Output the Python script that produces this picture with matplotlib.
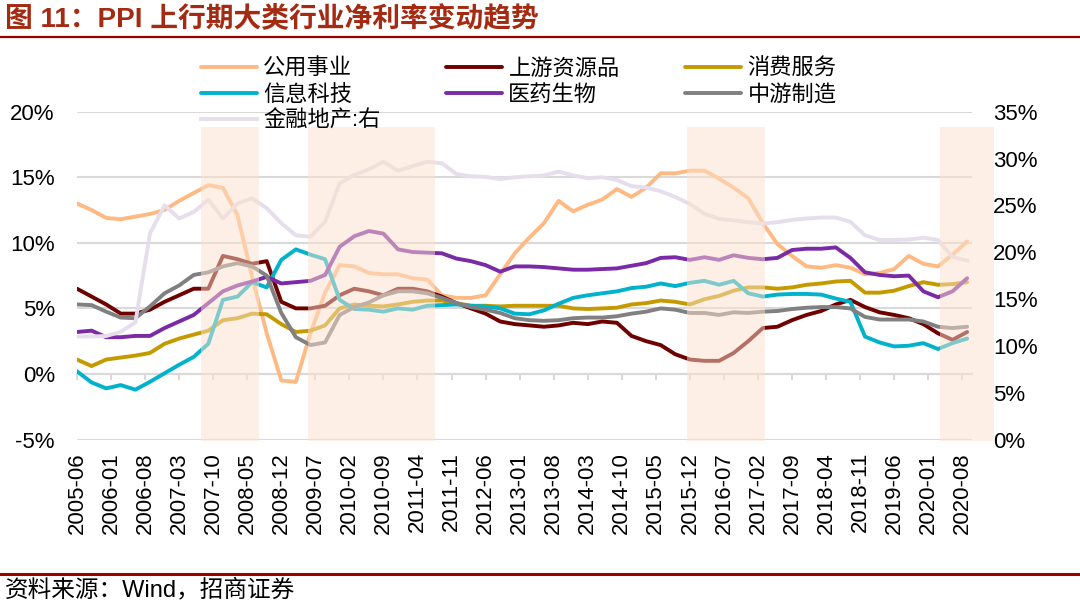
import numpy as np
import pandas as pd
import matplotlib
matplotlib.use('Agg')
import matplotlib.pyplot as plt
from matplotlib.lines import Line2D

plt.rcParams['font.family'] = ['Liberation Sans', 'Noto Sans CJK SC', 'DejaVu Sans']

# 月度类目轴 2005-06 ~ 2020-10，数据按季读取
months = pd.period_range('2005-06', '2020-10', freq='M')
obs = months[::3]
tick_months = months[::7]

util = [13.0, 12.5, 11.9, 11.8, 12.0, 12.2, 12.5, 13.2, 13.8, 14.4, 14.2, 12.1, 7.4, 3.1, -0.5, -0.6,
        3.1, 6.2, 8.3, 8.2, 7.7, 7.6, 7.6, 7.3, 7.2, 6.0, 5.8, 5.8, 6.0, 7.6, 9.2, 10.4,
        11.5, 13.2, 12.4, 12.9, 13.3, 14.1, 13.5, 14.2, 15.3, 15.3, 15.5, 15.5, 14.9, 14.2, 13.4,
        11.5, 9.9, 9.0, 8.2, 8.1, 8.3, 8.1, 7.6, 7.7, 8.0, 9.0, 8.4, 8.2, 9.1, 10.1]
upstream = [6.5, 5.9, 5.3, 4.6, 4.6, 4.9, 5.5, 6.0, 6.5, 6.5, 9.0, 8.75, 8.4, 8.6, 5.5, 5.0,
            5.0, 5.2, 6.0, 6.5, 6.3, 6.0, 6.5, 6.5, 6.3, 5.9, 5.4, 5.0, 4.6, 4.0, 3.8, 3.7,
            3.6, 3.7, 3.9, 3.8, 4.0, 3.9, 2.9, 2.5, 2.2, 1.5, 1.1, 1.0, 1.0, 1.6, 2.5,
            3.5, 3.6, 4.1, 4.5, 4.8, 5.3, 5.65, 5.1, 4.7, 4.5, 4.25, 3.8, 3.1, 2.6, 3.2]
consumer = [1.1, 0.6, 1.1, 1.25, 1.4, 1.6, 2.3, 2.7, 3.0, 3.3, 4.1, 4.25, 4.6, 4.55, 3.8, 3.2,
            3.3, 3.7, 5.0, 5.3, 5.2, 5.15, 5.3, 5.5, 5.6, 5.6, 5.4, 5.2, 5.2, 5.15, 5.2, 5.2,
            5.2, 5.2, 5.0, 4.95, 5.0, 5.05, 5.3, 5.4, 5.6, 5.5, 5.3, 5.7, 5.95, 6.35, 6.6,
            6.6, 6.5, 6.6, 6.8, 6.9, 7.05, 7.1, 6.2, 6.2, 6.35, 6.7, 7.0, 6.8, 6.85, 7.0]
tech = [0.2, -0.65, -1.1, -0.85, -1.2, -0.6, 0.05, 0.7, 1.3, 2.3, 5.65, 5.9, 7.0, 6.6, 8.7, 9.5,
        9.1, 8.75, 5.65, 4.95, 4.9, 4.75, 5.0, 4.9, 5.2, 5.25, 5.3, 5.2, 5.15, 5.0, 4.6, 4.55,
        4.85, 5.35, 5.8, 6.0, 6.15, 6.3, 6.55, 6.65, 6.9, 6.7, 6.95, 7.1, 6.8, 7.1, 6.15,
        5.9, 6.05, 6.1, 6.1, 6.05, 5.75, 5.5, 2.85, 2.4, 2.1, 2.15, 2.35, 1.9, 2.35, 2.7]
pharma = [3.2, 3.3, 2.8, 2.8, 2.9, 2.9, 3.5, 4.0, 4.5, 5.4, 6.3, 6.75, 7.05, 7.4, 6.9, 7.0,
          7.1, 7.55, 9.7, 10.5, 10.9, 10.7, 9.5, 9.3, 9.25, 9.2, 8.8, 8.6, 8.3, 7.8, 8.2, 8.2,
          8.15, 8.05, 7.95, 7.95, 8.0, 8.05, 8.25, 8.45, 8.85, 8.9, 8.7, 8.9, 8.7, 9.05, 8.85,
          8.75, 8.85, 9.45, 9.55, 9.55, 9.65, 8.85, 7.75, 7.55, 7.45, 7.5, 6.3, 5.85, 6.3, 7.3]
midstream = [5.3, 5.25, 4.75, 4.3, 4.25, 5.15, 6.15, 6.75, 7.55, 7.75, 8.2, 8.45, 8.2, 7.5, 4.65, 2.8,
             2.2, 2.4, 4.5, 5.1, 5.45, 6.0, 6.3, 6.3, 6.15, 5.8, 5.4, 5.1, 4.9, 4.65, 4.25, 4.1,
             4.05, 4.1, 4.25, 4.3, 4.3, 4.4, 4.6, 4.75, 5.0, 4.9, 4.65, 4.65, 4.5, 4.7, 4.65,
             4.75, 4.8, 4.95, 5.05, 5.1, 5.1, 5.0, 4.35, 4.15, 4.15, 4.15, 4.0, 3.6, 3.5, 3.6]
finance = [11.0, 11.0, 11.05, 11.5, 12.5, 22.0, 25.0, 23.6, 24.3, 25.6, 23.6, 25.2, 25.75, 24.7, 23.1, 21.8,
           21.65, 23.25, 27.35, 28.25, 28.85, 29.65, 28.7, 29.2, 29.65, 29.5, 28.35, 28.1, 28.05, 27.8, 28.0, 28.1,
           28.2, 28.6, 28.2, 27.9, 28.0, 27.7, 27.05, 26.9, 26.5, 25.9, 25.15, 24.1, 23.55, 23.4, 23.2,
           23.05, 23.2, 23.45, 23.6, 23.7, 23.7, 23.25, 21.8, 21.3, 21.3, 21.35, 21.55, 21.3, 19.5, 19.1]

# PPI 上行期
ppi_up = [('2007-08', '2008-07'), ('2009-06', '2011-07'), ('2015-12', '2017-03'), ('2020-04', '2021-02')]

left_series = [('公用事业', util, '#FFB983'), ('上游资源品', upstream, '#6E0000'),
               ('消费服务', consumer, '#C49A00'), ('信息科技', tech, '#00B2CA'),
               ('医药生物', pharma, '#7B2AA6'), ('中游制造', midstream, '#808080')]


def pos(p):
    return (pd.Period(p, 'M') - months[0]).n


x = np.array([pos(p) for p in obs])
xt = [pos(p) for p in tick_months]

fig = plt.figure(figsize=(10.8, 6.08), dpi=100)
ax = fig.add_axes([77 / 1080, 1 - 439.5 / 608, 895 / 1080, 327.8 / 608])
ax2 = ax.twinx()

handles = {}
for name, vals, c in left_series:
    handles[name], = ax.plot(x, vals, color=c, lw=2.8, label=name, solid_capstyle='round')
handles['金融地产:右'], = ax2.plot(x, finance, color='#E6DEEC', lw=2.8, label='金融地产:右')

for s, e in ppi_up:
    ax2.axvspan(pos(s) - 0.5, pos(e) + 0.5, ymin=-0.006, ymax=0.953, color='#FDE1CD',
                alpha=0.5, lw=0, zorder=5, clip_on=False)

ax.set_xlim(0, 184)
ax.set_ylim(-5, 20)
ax2.set_ylim(0, 35)

ax.set_yticks(range(-5, 21, 5))
ax.set_yticklabels([f'{v}%' for v in range(-5, 21, 5)])
ax2.set_yticks(range(0, 36, 5))
ax2.set_yticklabels([f'{v}%' for v in range(0, 36, 5)])
ax.yaxis.grid(True, color='#D9D9D9', lw=1.5)
ax.set_axisbelow(True)
for a in (ax, ax2):
    for sp in a.spines.values():
        sp.set_visible(False)
ax.tick_params(axis='y', length=0, pad=16, labelsize=16)
ax2.tick_params(axis='y', length=0, pad=15, labelsize=16)

ax.set_xticks(xt)
ax.set_xticklabels([str(p) for p in tick_months], rotation=90)
ax.tick_params(axis='x', length=0, pad=9, labelsize=16)

# 横轴穿过 0%
sec = ax.secondary_xaxis(0.2)
sec.set_xticks(xt)
sec.set_xticklabels([])
sec.tick_params(axis='x', direction='out', length=4, width=1.5, color='#D9D9D9')
sec.spines['bottom'].set_color('#D9D9D9')
sec.spines['bottom'].set_linewidth(1.5)

order = ['公用事业', '信息科技', '金融地产:右', '上游资源品', '医药生物', '消费服务', '中游制造']
fig.legend([handles[k] for k in order], order, ncol=3, loc='upper left',
           bbox_to_anchor=(201 / 1080, 1 - 59 / 608), frameon=False, fontsize=16,
           handlelength=2.5, handletextpad=0.3, columnspacing=2.95, labelspacing=0.22,
           borderpad=0, borderaxespad=0)

fig.text(5 / 1080, 1 - 19 / 608, '图 11：PPI 上行期大类行业净利率变动趋势', color='#A52A12',
         fontsize=20, fontweight='bold', va='center', ha='left')
fig.add_artist(Line2D([0, 1], [1 - 36.5 / 608] * 2, color='#990000', lw=1.6))
fig.add_artist(Line2D([0, 1], [1 - 573.5 / 608] * 2, color='#990000', lw=2.2))
fig.text(5 / 1080, 1 - 590 / 608, '资料来源：Wind，招商证券', color='black',
         fontsize=17, va='center', ha='left')

fig.savefig('out.png', dpi=100)
